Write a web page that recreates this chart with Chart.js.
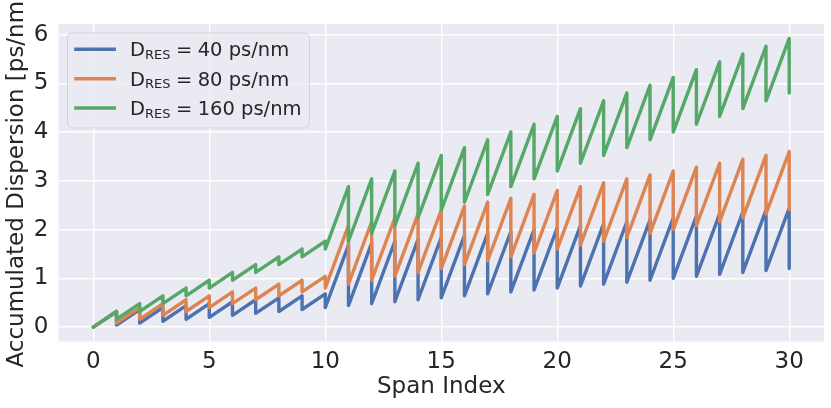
<!DOCTYPE html>
<html>
<head>
<meta charset="utf-8">
<script src="https://cdn.jsdelivr.net/npm/chart.js@4.4.1/dist/chart.umd.min.js"></script>
<style>
  html, body { margin: 0; padding: 0; background: #ffffff; }
  canvas { display: block; }
</style>
</head>
<body>
<canvas id="chart" width="831" height="408"></canvas>
<script>
// ---- data ----
const spanIndex = [0,1,2,3,4,5,6,7,8,9,10,11,12,13,14,15,16,17,18,19,20,21,22,23,24,25,26,27,28,29,30];
const xTicks = [0,5,10,15,20,25,30];
const yTicks = [0,1,2,3,4,5,6];
const seriesValues = ['40 ps/nm', '80 ps/nm', '160 ps/nm'];

// accumulated dispersion just before compensation at the end of spans 1..30
const peak40  = [0.32,0.36,0.40,0.44,0.48,0.52,0.56,0.60,0.64,0.68,
                 1.68,1.72,1.76,1.80,1.84,1.88,1.92,1.96,2.00,2.04,
                 2.08,2.12,2.16,2.20,2.24,2.28,2.32,2.36,2.40,2.44];
// accumulated dispersion after compensation at spans 0..30
const res40   = [0,0.04,0.08,0.12,0.16,0.20,0.24,0.28,0.32,0.36,0.40,
                 0.44,0.48,0.52,0.56,0.60,0.64,0.68,0.72,0.76,0.80,
                 0.84,0.88,0.92,0.96,1.00,1.04,1.08,1.12,1.16,1.20];

const peak80  = [0.32,0.40,0.48,0.56,0.64,0.72,0.80,0.88,0.96,1.04,
                 2.08,2.16,2.24,2.32,2.40,2.48,2.56,2.64,2.72,2.80,
                 2.88,2.96,3.04,3.12,3.20,3.28,3.36,3.44,3.52,3.60];
const res80   = [0,0.08,0.16,0.24,0.32,0.40,0.48,0.56,0.64,0.72,0.80,
                 0.88,0.96,1.04,1.12,1.20,1.28,1.36,1.44,1.52,1.60,
                 1.68,1.76,1.84,1.92,2.00,2.08,2.16,2.24,2.32,2.40];

const peak160 = [0.32,0.48,0.64,0.80,0.96,1.12,1.28,1.44,1.60,1.76,
                 2.88,3.04,3.20,3.36,3.52,3.68,3.84,4.00,4.16,4.32,
                 4.48,4.64,4.80,4.96,5.12,5.28,5.44,5.60,5.76,5.92];
const res160  = [0,0.16,0.32,0.48,0.64,0.80,0.96,1.12,1.28,1.44,1.60,
                 1.76,1.92,2.08,2.24,2.40,2.56,2.72,2.88,3.04,3.20,
                 3.36,3.52,3.68,3.84,4.00,4.16,4.32,4.48,4.64,4.80];

// ---- build point lists (sawtooth: rise over a span, vertical drop at compensation) ----
function sawtooth(peak, res) {
  const pts = [{ x: spanIndex[0], y: res[0] }];
  for (let i = 1; i < spanIndex.length; i++) {
    pts.push({ x: spanIndex[i], y: peak[i - 1] });
    pts.push({ x: spanIndex[i], y: res[i] });
  }
  return pts;
}

const COLORS = ['#4C72B0', '#DD8452', '#55A868'];
const TEXT = '#262626';
const FONT = '"DejaVu Sans", "Liberation Sans", sans-serif';

const bgPlugin = {
  id: 'bg',
  beforeDraw(chart) {
    const { ctx, chartArea: a } = chart;
    ctx.save();
    ctx.fillStyle = '#EAEAF2';
    ctx.fillRect(a.left, a.top, a.right - a.left, a.bottom - a.top);
    ctx.restore();
  }
};

const yTitlePlugin = {
  id: 'ytitle',
  afterDraw(chart) {
    const { ctx, chartArea: a } = chart;
    ctx.save();
    ctx.translate(22.5, (a.top + a.bottom) / 2 - 3);
    ctx.rotate(-Math.PI / 2);
    ctx.font = '23px ' + FONT;
    ctx.fillStyle = TEXT;
    ctx.textAlign = 'center';
    ctx.textBaseline = 'alphabetic';
    ctx.fillText('Accumulated Dispersion [ps/nm]', 0, 0);
    ctx.restore();
  }
};

const legendPlugin = {
  id: 'mplLegend',
  afterDraw(chart) {
    const { ctx, chartArea: a } = chart;
    const bx = a.left + 9, by = a.top + 9, bw = 242, bh = 95;
    ctx.save();
    ctx.beginPath();
    ctx.roundRect(bx, by, bw, bh, 5);
    ctx.fillStyle = 'rgba(234,234,242,0.8)';
    ctx.fill();
    ctx.strokeStyle = 'rgba(204,204,204,0.8)';
    ctx.lineWidth = 1;
    ctx.stroke();
    const rowY = [by + 16.3, by + 45.7, by + 75];
    for (let i = 0; i < seriesValues.length; i++) {
      const cy = rowY[i];
      ctx.beginPath();
      ctx.moveTo(bx + 6.7, cy);
      ctx.lineTo(bx + 48.4, cy);
      ctx.strokeStyle = COLORS[i];
      ctx.lineWidth = 3.4;
      ctx.lineCap = 'butt';
      ctx.stroke();
      const base = cy + 7;
      let x = bx + 62.5;
      ctx.fillStyle = TEXT;
      ctx.textBaseline = 'alphabetic';
      ctx.textAlign = 'left';
      ctx.font = '19.5px ' + FONT;
      ctx.fillText('D', x, base);
      x += ctx.measureText('D').width;
      ctx.font = '13px ' + FONT;
      ctx.fillText('RES', x, base + 2.7);
      x += ctx.measureText('RES').width + 5.4;
      ctx.font = '19.5px ' + FONT;
      ctx.fillText('=', x, base);
      x += ctx.measureText('=').width + 5.4;
      ctx.fillText(seriesValues[i], x, base);
    }
    ctx.restore();
  }
};

const datasets = [
  { label: 'D_RES = ' + seriesValues[0], data: sawtooth(peak40, res40),  borderColor: COLORS[0], order: 2 },
  { label: 'D_RES = ' + seriesValues[1], data: sawtooth(peak80, res80),  borderColor: COLORS[1], order: 1 },
  { label: 'D_RES = ' + seriesValues[2], data: sawtooth(peak160, res160), borderColor: COLORS[2], order: 0 }
].map(d => Object.assign(d, {
  borderWidth: 3.4, pointRadius: 0, tension: 0, fill: false,
  borderJoinStyle: 'round', borderCapStyle: 'round'
}));

new Chart(document.getElementById('chart'), {
  type: 'line',
  data: { datasets },
  plugins: [bgPlugin, yTitlePlugin, legendPlugin],
  options: {
    responsive: false,
    animation: false,
    devicePixelRatio: 1,
    parsing: true,
    layout: { padding: { left: 0, top: 7, right: 7, bottom: 0 } },
    plugins: { legend: { display: false }, tooltip: { enabled: false } },
    scales: {
      x: {
        type: 'linear',
        min: -1.5, max: 31.5,
        afterBuildTicks: s => { s.ticks = xTicks.map(v => ({ value: v })); },
        afterFit: s => { s.height = 66.5; },
        grid: { color: '#ffffff', lineWidth: 1.4, drawTicks: false },
        border: { display: false },
        ticks: { color: TEXT, font: { family: FONT, size: 23 }, padding: 6.7, maxRotation: 0, autoSkip: false },
        title: { display: true, text: 'Span Index', color: TEXT, font: { family: FONT, size: 23 }, padding: { top: 0, bottom: 7 } }
      },
      y: {
        type: 'linear',
        min: -0.296, max: 6.216,
        afterBuildTicks: s => { s.ticks = yTicks.map(v => ({ value: v })); },
        afterFit: s => { s.width = 58.5; },
        grid: { color: '#ffffff', lineWidth: 1.4, drawTicks: false },
        border: { display: false },
        ticks: { color: TEXT, font: { family: FONT, size: 23 }, padding: 10.2, autoSkip: false }
      }
    }
  }
});
</script>
</body>
</html>
